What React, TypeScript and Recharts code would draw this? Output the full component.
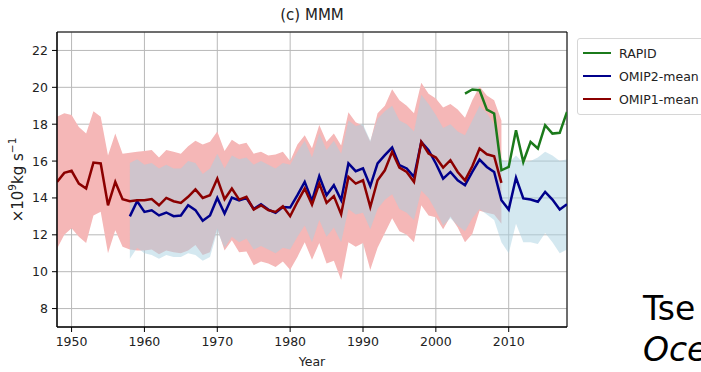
import React from "react";
import {
  Area,
  CartesianGrid,
  ComposedChart,
  Line,
  ReferenceArea,
  XAxis,
  YAxis,
} from "recharts";

const omip1Start = 1948;
const omip1Mean = [
  14.87, 15.36, 15.47, 14.78, 14.51, 15.92, 15.87, 13.6, 14.87, 13.93,
  13.82, 13.87, 13.87, 13.94, 13.6, 14.0, 13.82, 13.73, 14.06, 14.46,
  14.0, 14.15, 15.05, 13.93, 14.51, 13.91, 14.06, 13.37, 13.6, 13.34,
  13.24, 13.55, 13.01, 13.79, 14.51, 13.64, 14.78, 13.73, 14.1, 13.12,
  15.14, 14.78, 14.96, 13.51, 14.96, 15.5, 16.5, 15.65, 15.41, 14.87,
  17.04, 16.41, 16.19, 15.65, 16.05, 15.41, 14.95, 15.72, 16.68, 16.37,
  16.26, 14.82,
];
const omip1High = [
  18.4, 18.6, 18.5, 17.85, 17.5, 18.7, 18.4, 16.3, 17.5, 16.4,
  16.45, 16.5, 16.55, 16.6, 16.2, 16.6, 16.5, 16.4, 16.8, 17.1,
  16.9, 17.05, 17.6, 16.55, 17.15, 16.9, 17.0, 16.4, 16.5, 16.3,
  16.35, 16.5, 16.0, 16.9, 17.4, 16.7, 17.95, 17.05, 17.5, 16.85,
  18.65, 18.1, 17.9, 17.05, 18.6, 19.0, 19.9, 19.3, 19.0, 18.6,
  20.25, 19.65, 19.4, 18.9, 19.1, 18.8, 18.35, 19.3, 20.05, 19.55,
  19.3, 18.2,
];
const omip1Low = [
  11.25, 12.0, 12.35, 11.9, 11.55, 13.05, 13.25, 11.0, 12.25, 11.35,
  11.2, 11.15, 11.15, 11.2, 10.95, 11.15, 11.05, 11.0, 11.15, 11.45,
  10.9, 11.05, 12.35, 11.15, 11.7, 11.05, 11.1, 10.35, 10.55, 10.45,
  10.25, 10.55, 10.1, 10.8, 11.6, 10.65, 11.55, 10.45, 10.6, 9.55,
  11.6, 11.35, 11.55, 10.1, 11.3, 12.1, 12.9, 12.2, 12.0, 11.6,
  13.6, 13.05, 12.95, 12.3, 13.0, 12.4, 11.6, 12.05, 13.3, 13.2,
  13.1, 12.6,
];

const omip2Start = 1958;
const omip2Mean = [
  13.0, 13.82, 13.24, 13.33, 13.05, 13.21, 13.01, 13.05, 13.6, 13.34,
  12.76, 13.05, 14.0, 13.16, 14.02, 13.87, 14.0, 13.4, 13.66, 13.37,
  13.19, 13.51, 13.48, 14.15, 14.87, 13.84, 15.18, 14.15, 14.69, 13.88,
  15.87, 15.45, 15.6, 14.64, 15.87, 16.32, 16.73, 15.78, 15.6, 15.14,
  17.04, 16.59, 15.87, 15.05, 15.41, 14.96, 14.69, 15.41, 16.08, 15.68,
  15.41, 13.88, 13.37, 15.1, 13.97, 13.91, 13.79, 14.33, 13.91, 13.37,
  13.66,
];
const omip2High = [
  15.9, 16.1, 15.8, 15.9, 15.6, 15.8, 15.6, 15.6, 16.0, 15.9,
  15.3, 15.6, 16.4, 15.6, 16.3, 16.1, 16.2, 15.8, 16.0, 15.8,
  15.6, 15.9, 15.8, 16.5, 17.1, 16.2, 17.5, 16.6, 17.1, 16.4,
  18.2, 17.9, 18.0, 17.1, 18.3, 18.7, 19.0, 18.2, 18.0, 17.6,
  19.6, 19.1, 18.5, 17.8, 18.0, 17.6, 17.4, 18.2, 19.0, 18.6,
  18.0, 16.1, 15.9, 16.3, 15.9, 16.0, 16.2, 16.5, 16.3, 16.0,
  16.1,
];
const omip2Low = [
  10.7, 11.3, 11.0, 10.9, 10.7, 10.9, 10.8, 10.8, 11.0, 10.9,
  10.6, 10.8, 12.2, 11.3, 11.9, 11.6, 11.8, 11.2, 11.4, 11.2,
  11.0, 11.3, 11.2, 11.9, 12.5, 11.6, 12.8, 11.9, 12.4, 11.6,
  13.4, 13.1, 13.2, 12.3, 13.4, 13.9, 14.2, 13.4, 13.2, 12.8,
  14.4, 14.0, 13.3, 12.5, 12.9, 12.5, 12.2, 12.9, 13.4, 13.1,
  12.8, 11.6, 11.0, 12.6, 11.6, 11.6, 11.5, 12.1, 11.6, 11.0,
  11.2,
];

const rapidStart = 2004;
const rapid = [
  19.66, 19.88, 19.84, 18.79, 18.58, 15.5, 15.68, 17.67, 15.95, 17.04,
  16.68, 17.94, 17.49, 17.53, 18.66,
];

const xTicks = [1950, 1960, 1970, 1980, 1990, 2000, 2010];
const yTicks = [8, 10, 12, 14, 16, 18, 20, 22];
const firstYear = 1948;
const lastYear = 2018;

const at = (arr: number[], start: number, year: number) => {
  const i = year - start;
  return i >= 0 && i < arr.length ? arr[i] : undefined;
};

const data: any[] = [];
for (let y = firstYear; y <= lastYear; y++) {
  const l1 = at(omip1Low, omip1Start, y);
  const h1 = at(omip1High, omip1Start, y);
  const l2 = at(omip2Low, omip2Start, y);
  const h2 = at(omip2High, omip2Start, y);
  data.push({
    year: y,
    omip1: at(omip1Mean, omip1Start, y),
    omip2: at(omip2Mean, omip2Start, y),
    rapid: at(rapid, rapidStart, y),
    band1: l1 === undefined ? null : [l1, h1],
    band2: l2 === undefined ? null : [l2, h2],
  });
}

const font = "'DejaVu Sans', sans-serif";
const tickStyle = { fontSize: 12.5, fill: "#222", fontFamily: font };

const legendItems = [
  { name: "RAPID", color: "#1b7a1b" },
  { name: "OMIP2-mean", color: "#00008b" },
  { name: "OMIP1-mean", color: "#8b0000" },
];

const YLabel = (props: any) => {
  const cy = 180;
  return (
    <text
      x={18}
      y={cy}
      transform={`rotate(-90, 18, ${cy})`}
      textAnchor="middle"
      dominantBaseline="central"
      fontFamily={font}
      fontSize={15}
      fill="#222"
    >
      ×10<tspan dy={-6} fontSize={10.5}>9</tspan>
      <tspan dy={6}>kg s</tspan>
      <tspan dy={-6} fontSize={10.5}>−1</tspan>
    </text>
  );
};

export default function App() {
  return (
    <div
      style={{
        position: "absolute",
        left: 0,
        top: 0,
        width: 701,
        height: 372,
        overflow: "hidden",
        background: "#fff",
        fontFamily: font,
      }}
    >
      <div
        style={{
          position: "absolute",
          left: 57,
          width: 510,
          top: 6,
          textAlign: "center",
          fontSize: 15,
          color: "#222",
        }}
      >
        (c) MMM
      </div>
      <ComposedChart
        width={701}
        height={372}
        data={data}
        margin={{ top: 32, right: 134, bottom: 15, left: 0 }}
      >
        <CartesianGrid stroke="#b8b8b8" strokeWidth={1} />
        <XAxis
          dataKey="year"
          type="number"
          domain={[firstYear, lastYear]}
          ticks={xTicks}
          allowDataOverflow
          height={30}
          tick={tickStyle}
          tickSize={5}
          tickMargin={5}
          axisLine={{ stroke: "#000" }}
          tickLine={{ stroke: "#000" }}
          label={{
            value: "Year",
            position: "insideBottom",
            offset: -9,
            style: { fontSize: 12.5, fill: "#222", fontFamily: font },
          }}
        />
        <YAxis
          type="number"
          domain={[7, 23]}
          ticks={yTicks}
          allowDataOverflow
          width={57}
          tick={tickStyle}
          tickSize={5}
          tickMargin={4}
          axisLine={{ stroke: "#000" }}
          tickLine={{ stroke: "#000" }}
          label={{ content: <YLabel /> }}
        />
        <Area
          dataKey="band1"
          stroke="none"
          fill="#f5b7b7"
          fillOpacity={1}
          isAnimationActive={false}
          activeDot={false}
        />
        <Area
          dataKey="band2"
          stroke="none"
          fill="#a9d1e1"
          fillOpacity={0.5}
          isAnimationActive={false}
          activeDot={false}
        />
        <Line
          dataKey="rapid"
          stroke="#1b7a1b"
          strokeWidth={2.5}
          dot={false}
          isAnimationActive={false}
        />
        <Line
          dataKey="omip2"
          stroke="#00008b"
          strokeWidth={2.5}
          dot={false}
          isAnimationActive={false}
        />
        <Line
          dataKey="omip1"
          stroke="#8b0000"
          strokeWidth={2.5}
          dot={false}
          isAnimationActive={false}
        />
        <ReferenceArea
          x1={firstYear}
          x2={lastYear}
          y1={7}
          y2={23}
          fill="none"
          stroke="#000"
          strokeWidth={1}
          ifOverflow="visible"
        />
      </ComposedChart>
      <div
        style={{
          position: "absolute",
          left: 577,
          top: 38,
          width: 140,
          height: 75,
          border: "1px solid #d6d6d6",
          borderRadius: 3,
          background: "#fff",
        }}
      >
        {legendItems.map((it, i) => (
          <div
            key={it.name}
            style={{
              position: "absolute",
              left: 5,
              top: 14 + i * 23 - 9,
              height: 18,
              display: "flex",
              alignItems: "center",
              whiteSpace: "nowrap",
            }}
          >
            <div
              style={{ width: 28, height: 2.5, background: it.color, marginRight: 8 }}
            />
            <span style={{ fontSize: 12.5, color: "#222" }}>{it.name}</span>
          </div>
        ))}
      </div>
      <div
        style={{
          position: "absolute",
          left: 643,
          top: 288,
          fontFamily: "'Comic Sans MS', 'DejaVu Sans', sans-serif",
          fontSize: 33,
          lineHeight: "41px",
          color: "#000",
          whiteSpace: "nowrap",
        }}
      >
        <div>Tse</div>
        <div style={{ fontStyle: "italic" }}>Oce</div>
      </div>
    </div>
  );
}
